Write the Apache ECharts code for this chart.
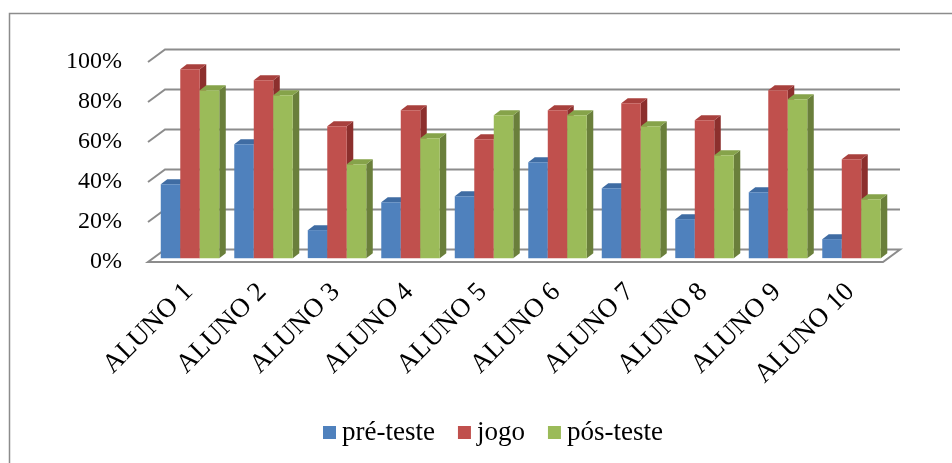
<!DOCTYPE html>
<html>
<head>
<meta charset="utf-8">
<script src="https://cdn.jsdelivr.net/npm/echarts@6/dist/echarts.min.js"></script>
<style>
  html, body { margin: 0; padding: 0; background: #ffffff; }
  #chart { width: 952px; height: 463px; }
</style>
</head>
<body>
<div id="chart"></div>
<script>
// Categories and series values (percent)
var categories = ['ALUNO 1', 'ALUNO 2', 'ALUNO 3', 'ALUNO 4', 'ALUNO 5',
                  'ALUNO 6', 'ALUNO 7', 'ALUNO 8', 'ALUNO 9', 'ALUNO 10'];
var preTeste = [37, 57, 14, 28, 31, 48, 35, 19.5, 33, 9.5];
var jogo     = [94.5, 89, 66, 74, 59.5, 74, 77.5, 69, 84, 49.5];
var posTeste = [84, 81.5, 47, 60, 71.5, 71.5, 66, 51.5, 79.5, 29.5];
var tickValues = [0, 20, 40, 60, 80, 100];
var seriesNames = ['pré-teste', 'jogo', 'pós-teste'];

// Face colours: front, top, side
var palette = [
  { front: '#4F81BD', top: '#3F6CA3', side: '#385D8A' },
  { front: '#C0504D', top: '#A8403D', side: '#8C2F2D' },
  { front: '#9BBB59', top: '#86A34A', side: '#6A7F3B' }
];

// Oblique projection of the depth axis
var WALL_DX = 17, WALL_DY = 12.5;    // full floor depth
var BAR_Z0 = 0.31;                    // bar front position as fraction of depth
var BAR_DX = 6.5, BAR_DY = 5;         // bar thickness in depth
var BAR_W = 19.5;                     // bar width
var GROUP_OFFSET = -29.25;            // left edge of first bar relative to band centre

var chart = echarts.init(document.getElementById('chart'), null, { renderer: 'canvas' });

function wallRender(params, api) {
  var cs = params.coordSys;
  var v = api.value(1);
  var y = api.coord([0, v])[1];
  var x0 = cs.x, x1 = cs.x + cs.width;
  var children = [];
  if (v === 0) {
    children.push({
      type: 'polygon',
      shape: { points: [[x0, y], [x1, y], [x1 + WALL_DX, y - WALL_DY], [x0 + WALL_DX, y - WALL_DY]] },
      style: { fill: '#ffffff', stroke: '#8c8c8c', lineWidth: 2 }
    });
  } else {
    children.push({
      type: 'polyline',
      shape: { points: [[x0, y], [x0 + WALL_DX, y - WALL_DY], [x1 + WALL_DX, y - WALL_DY]] },
      style: { stroke: '#8c8c8c', lineWidth: 2, fill: null }
    });
  }
  return { type: 'group', children: children };
}

function makeBarRender(s) {
  return function (params, api) {
    var idx = api.value(0);
    var v = api.value(1);
    var top = api.coord([idx, v]);
    var base = api.coord([idx, 0]);
    var shiftX = BAR_Z0 * WALL_DX, shiftY = BAR_Z0 * WALL_DY;
    var x0 = top[0] + GROUP_OFFSET + shiftX + s * BAR_W;
    var x1 = x0 + BAR_W;
    var yt = top[1] - shiftY;
    var yb = base[1] - shiftY;
    var c = palette[s];
    return {
      type: 'group',
      children: [
        { type: 'polygon',
          shape: { points: [[x1, yt], [x1 + BAR_DX, yt - BAR_DY], [x1 + BAR_DX, yb - BAR_DY], [x1, yb]] },
          style: { fill: c.side } },
        { type: 'polygon',
          shape: { points: [[x0, yt], [x1, yt], [x1 + BAR_DX, yt - BAR_DY], [x0 + BAR_DX, yt - BAR_DY]] },
          style: { fill: c.top } },
        { type: 'rect',
          shape: { x: x0, y: yt, width: BAR_W, height: yb - yt },
          style: { fill: c.front } }
      ]
    };
  };
}

var allValues = [preTeste, jogo, posTeste];
var barSeries = allValues.map(function (vals, s) {
  return {
    type: 'custom',
    name: seriesNames[s],
    renderItem: makeBarRender(s),
    itemStyle: { color: palette[s].front },
    encode: { x: 0, y: 1 },
    data: vals.map(function (v, i) { return [i, v]; }),
    z: 3 + s
  };
});

var option = {
  animation: false,
  backgroundColor: '#ffffff',
  textStyle: { fontFamily: 'Liberation Serif' },
  graphic: [{
    type: 'rect',
    shape: { x: 9.5, y: 13.5, width: 1000, height: 500 },
    style: { fill: null, stroke: '#8c8c8c', lineWidth: 1.5 },
    silent: true
  }],
  legend: {
    data: seriesNames,
    bottom: 12,
    left: 318,
    icon: 'rect',
    itemWidth: 13,
    itemHeight: 13,
    itemGap: 23,
    textStyle: { fontFamily: 'Liberation Serif', fontSize: 27, color: '#000000', padding: [0, 0, 0, 1] }
  },
  // grid 0: front plane of the plot; grid 1: category labels, set slightly into depth
  grid: [
    { left: 148, right: 69, top: 62, bottom: 201 },
    { left: 152, right: 65, top: 62, bottom: 201 }
  ],
  xAxis: [{
    type: 'category',
    gridIndex: 0,
    data: categories,
    axisLine: { show: false },
    axisTick: { show: false },
    splitLine: { show: false },
    axisLabel: { show: false }
  }, {
    type: 'category',
    gridIndex: 1,
    data: categories,
    axisLine: { show: false },
    axisTick: { show: false },
    splitLine: { show: false },
    axisLabel: {
      rotate: 45,
      interval: 0,
      margin: 26,
      fontFamily: 'Liberation Serif',
      fontSize: 27,
      color: '#000000'
    }
  }],
  yAxis: [{
    type: 'value',
    gridIndex: 0,
    min: 0,
    max: 100,
    interval: 20,
    axisLine: { show: false },
    axisTick: { show: false },
    splitLine: { show: false },
    axisLabel: {
      formatter: '{value}%',
      margin: 26,
      fontFamily: 'Liberation Serif',
      fontSize: 24,
      color: '#000000'
    }
  }, {
    type: 'value',
    gridIndex: 1,
    min: 0,
    max: 100,
    interval: 20,
    show: false
  }],
  series: [{
    type: 'custom',
    name: 'wall',
    renderItem: wallRender,
    encode: { x: 0, y: 1 },
    data: tickValues.map(function (v) { return [0, v]; }),
    silent: true,
    z: 1
  }].concat(barSeries)
};

chart.setOption(option);
</script>
</body>
</html>
